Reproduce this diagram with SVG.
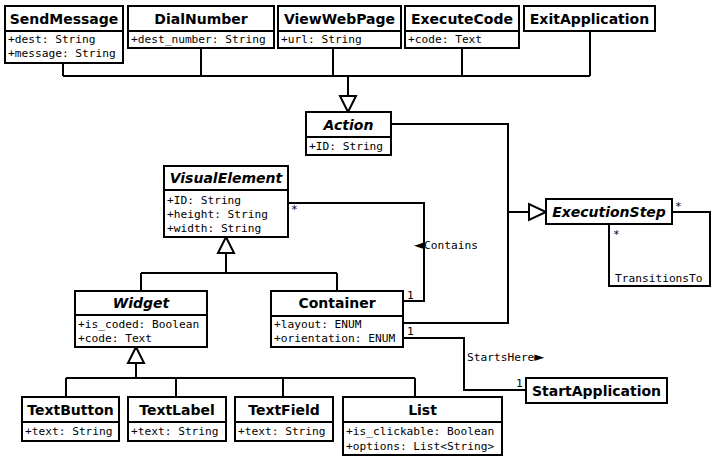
<svg xmlns="http://www.w3.org/2000/svg" width="715" height="463" viewBox="0 0 715 463">
<style>
.box{fill:#fff;stroke:#000;stroke-width:2}
.div{stroke:#000;stroke-width:2}
.t{font-family:"DejaVu Sans","Liberation Sans",sans-serif;font-weight:bold;font-size:14px;text-anchor:middle;fill:#000}
.ti{font-family:"DejaVu Sans","Liberation Sans",sans-serif;font-weight:bold;font-style:italic;font-size:14px;text-anchor:middle;fill:#000}
.a{font-family:"DejaVu Sans Mono","Liberation Mono",monospace;font-size:11.2px;fill:#000}
.g{font-family:"DejaVu Sans","Liberation Sans",sans-serif;font-size:13px}
.ln{fill:none;stroke:#000;stroke-width:2}
.tri{fill:#fff;stroke:#000;stroke-width:2}
</style>
<rect width="715" height="463" fill="#fff"/>
<g id="connectors">
<path class="ln" d="M63 63V76M201 48V76M333 48V76M462 48V76M590 31V76M63 76H590M348 76V96"/>
<polygon class="tri" points="340,96 356,96 348,112"/>
<path class="ln" d="M391 124H508V323H403M508 212H529"/>
<polygon class="tri" points="529,204 529,220 546,212"/>
<path class="ln" d="M288 203H424V301H403"/>
<path class="ln" d="M403 338H464V390H526"/>
<path class="ln" d="M672 212H710V286H609V224"/>
<path class="ln" d="M226 253V273M141 273H337M141 273V291M337 273V291"/>
<polygon class="tri" points="218,253 234,253 226,237"/>
<path class="ln" d="M136 363V378M66 378H415M66 378V397M176 378V397M283 378V397M415 378V397"/>
<polygon class="tri" points="128,363 144,363 136,347"/>
<text class="a" x="291" y="213">*</text>
<text class="a" x="414" y="249"><tspan class="g">◄</tspan>Contains</text>
<text class="a" x="407" y="299">1</text>
<text class="a" x="407" y="335">1</text>
<text class="a" x="467" y="361">StartsHere<tspan class="g">►</tspan></text>
<text class="a" x="516" y="387">1</text>
<text class="a" x="675" y="210">*</text>
<text class="a" x="613" y="238">*</text>
<text class="a" x="615" y="282">TransitionsTo</text>
</g>
<g id="SendMessage">
<rect class="box" x="5" y="6" width="118" height="57"/><line class="div" x1="5" y1="31" x2="123" y2="31"/>
<text class="t" x="64" y="24">SendMessage</text>
<text class="a" x="8" y="43">+dest: String</text>
<text class="a" x="8" y="57">+message: String</text>
</g>
<g id="DialNumber">
<rect class="box" x="128" y="6" width="146" height="42"/><line class="div" x1="128" y1="31" x2="274" y2="31"/>
<text class="t" x="201" y="24">DialNumber</text>
<text class="a" x="131" y="43">+dest_number: String</text>
</g>
<g id="ViewWebPage">
<rect class="box" x="278" y="6" width="123" height="42"/><line class="div" x1="278" y1="31" x2="401" y2="31"/>
<text class="t" x="339.5" y="24">ViewWebPage</text>
<text class="a" x="281" y="43">+url: String</text>
</g>
<g id="ExecuteCode">
<rect class="box" x="405" y="6" width="114" height="42"/><line class="div" x1="405" y1="31" x2="519" y2="31"/>
<text class="t" x="462" y="24">ExecuteCode</text>
<text class="a" x="408" y="43">+code: Text</text>
</g>
<g id="ExitApplication">
<rect class="box" x="524" y="6" width="131" height="25"/>
<text class="t" x="589.5" y="24">ExitApplication</text>
</g>
<g id="Action">
<rect class="box" x="306" y="112" width="85" height="43"/><line class="div" x1="306" y1="137" x2="391" y2="137"/>
<text class="ti" x="348.5" y="130">Action</text>
<text class="a" x="309" y="150">+ID: String</text>
</g>
<g id="VisualElement">
<rect class="box" x="164" y="166" width="124" height="71"/><line class="div" x1="164" y1="190" x2="288" y2="190"/>
<text class="ti" x="226" y="183">VisualElement</text>
<text class="a" x="167" y="204">+ID: String</text>
<text class="a" x="167" y="218">+height: String</text>
<text class="a" x="167" y="232">+width: String</text>
</g>
<g id="ExecutionStep">
<rect class="box" x="546" y="199" width="126" height="25"/>
<text class="ti" x="609" y="217">ExecutionStep</text>
</g>
<g id="Widget">
<rect class="box" x="75" y="291" width="132" height="56"/><line class="div" x1="75" y1="315" x2="207" y2="315"/>
<text class="ti" x="141" y="308">Widget</text>
<text class="a" x="78" y="328">+is_coded: Boolean</text>
<text class="a" x="78" y="342">+code: Text</text>
</g>
<g id="Container">
<rect class="box" x="271" y="291" width="132" height="56"/><line class="div" x1="271" y1="316" x2="403" y2="316"/>
<text class="t" x="337" y="308">Container</text>
<text class="a" x="274" y="328">+layout: ENUM</text>
<text class="a" x="274" y="342">+orientation: ENUM</text>
</g>
<g id="StartApplication">
<rect class="box" x="526" y="378" width="141" height="25"/>
<text class="t" x="596.5" y="396">StartApplication</text>
</g>
<g id="TextButton">
<rect class="box" x="22" y="397" width="97" height="44"/><line class="div" x1="22" y1="422" x2="119" y2="422"/>
<text class="t" x="70.5" y="415">TextButton</text>
<text class="a" x="25" y="435">+text: String</text>
</g>
<g id="TextLabel">
<rect class="box" x="128" y="397" width="98" height="44"/><line class="div" x1="128" y1="422" x2="226" y2="422"/>
<text class="t" x="177" y="415">TextLabel</text>
<text class="a" x="131" y="435">+text: String</text>
</g>
<g id="TextField">
<rect class="box" x="235" y="397" width="98" height="44"/><line class="div" x1="235" y1="422" x2="333" y2="422"/>
<text class="t" x="284" y="415">TextField</text>
<text class="a" x="238" y="435">+text: String</text>
</g>
<g id="List">
<rect class="box" x="343" y="397" width="159" height="58"/><line class="div" x1="343" y1="422" x2="502" y2="422"/>
<text class="t" x="422.5" y="415">List</text>
<text class="a" x="346" y="435">+is_clickable: Boolean</text>
<text class="a" x="346" y="450">+options: List&lt;String&gt;</text>
</g>
</svg>
